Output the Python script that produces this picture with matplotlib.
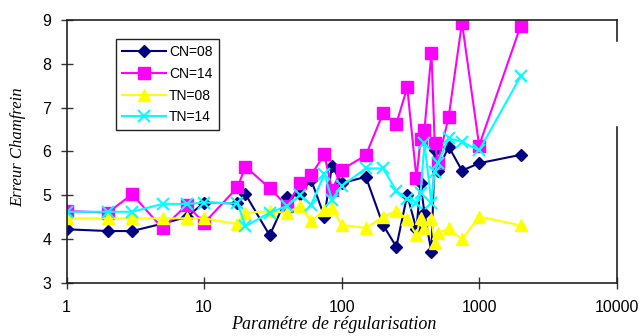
import matplotlib
matplotlib.use("Agg")
import matplotlib.pyplot as plt

x = [1, 2, 3, 5, 7.5, 10, 17.5, 20, 30, 40, 50, 60, 75, 85, 100, 150, 200, 250,
     300, 350, 375, 400, 450, 475, 500, 600, 750, 1000, 2000]

cn08 = [4.22, 4.18, 4.18, 4.35, 4.50, 4.83, 4.81, 5.02, 4.08, 4.95, 5.02, 5.35, 4.51, 5.67,
        5.27, 5.42, 4.32, 3.82, 5.00, 4.22, 5.27, 4.59, 3.70, 6.03, 5.56, 6.11, 5.56, 5.73, 5.92]
cn14 = [4.64, 4.60, 5.02, 4.24, 4.78, 4.36, 5.18, 5.65, 5.16, 4.76, 5.27, 5.46, 5.93, 5.12,
        5.58, 5.91, 6.87, 6.63, 7.46, 5.39, 6.28, 6.49, 8.25, 6.20, 5.74, 6.78, 8.94, 6.13, 8.86]
tn08 = [4.47, 4.47, 4.47, 4.47, 4.47, 4.47, 4.34, 4.60, 4.63, 4.60, 4.75, 4.40, 4.66, 4.70,
        4.32, 4.25, 4.50, 4.64, 4.45, 4.09, 4.48, 4.24, 4.46, 3.90, 4.13, 4.24, 3.99, 4.51, 4.31]
tn14 = [4.62, 4.62, 4.62, 4.80, 4.80, 4.83, 4.81, 4.29, 4.60, 4.75, 5.00, 4.78, 5.48, 4.90,
        5.21, 5.61, 5.61, 5.10, 4.91, 4.83, 5.05, 6.18, 4.82, 5.53, 5.73, 6.30, 6.22, 6.02, 7.71]

labels = ["CN=08", "CN=14", "TN=08", "TN=14"]
xticks = [1, 10, 100, 1000, 10000]
xtick_labels = ["1", "10", "100", "1000", "10000"]
yticks = [3, 4, 5, 6, 7, 8, 9]

fig = plt.figure(figsize=(6.42, 3.36), dpi=100)
ax = fig.add_axes([0.1036, 0.1586, 0.857, 0.7819])

ax.plot(x, cn08, color="#000080", marker="D", ms=6.5, lw=1.5, label=labels[0])
ax.plot(x, cn14, color="#FF00FF", marker="s", ms=8, lw=1.5, label=labels[1])
ax.plot(x, tn08, color="#FFFF00", marker="^", ms=9, lw=1.5, label=labels[2])
ax.plot(x, tn14, color="#00FFFF", marker="x", ms=8, mew=1.5, lw=1.5, label=labels[3])

ax.set_xscale("log")
ax.set_xlim(1, 10000)
ax.set_ylim(3, 9)
ax.set_xticks(xticks)
ax.set_xticklabels(xtick_labels)
ax.minorticks_off()
ax.set_yticks(yticks)

tickfont = "Liberation Sans"
for lab in ax.get_xticklabels() + ax.get_yticklabels():
    lab.set_fontfamily(tickfont)
    lab.set_fontsize(11.5)
ax.tick_params(axis="both", direction="inout", length=8, width=1, color="#333333")
ax.tick_params(axis="y", pad=7)
ax.tick_params(axis="x", pad=8.5)

for s in ax.spines.values():
    s.set_color("#222222")
    s.set_linewidth(1.2)
ax.spines["right"].set_bounds(3, 6.56)
ax.axvline(10000, ymin=(8.53 - 3) / 6, ymax=1, color="#222222", lw=1.2, clip_on=False)

ax.set_ylabel("Erreur Chamfrein", fontfamily="Liberation Serif", fontstyle="italic",
              fontsize=12)
ax.yaxis.set_label_coords(-0.074, 0.515)
ax.set_xlabel("Paramétre de régularisation", fontfamily="Liberation Serif",
              fontstyle="italic", fontsize=13)
ax.xaxis.set_label_coords(0.486, -0.127)

leg = ax.legend(loc="upper left", bbox_to_anchor=(0.0894, 0.9277), borderaxespad=0,
                prop={"family": "Liberation Sans", "size": 10}, fancybox=False,
                framealpha=1, edgecolor="#222222", handlelength=3.2, handletextpad=0.2,
                labelspacing=0.55, borderpad=0.45)
leg.get_frame().set_linewidth(1.0)

fig.savefig("out.png", dpi=100)
